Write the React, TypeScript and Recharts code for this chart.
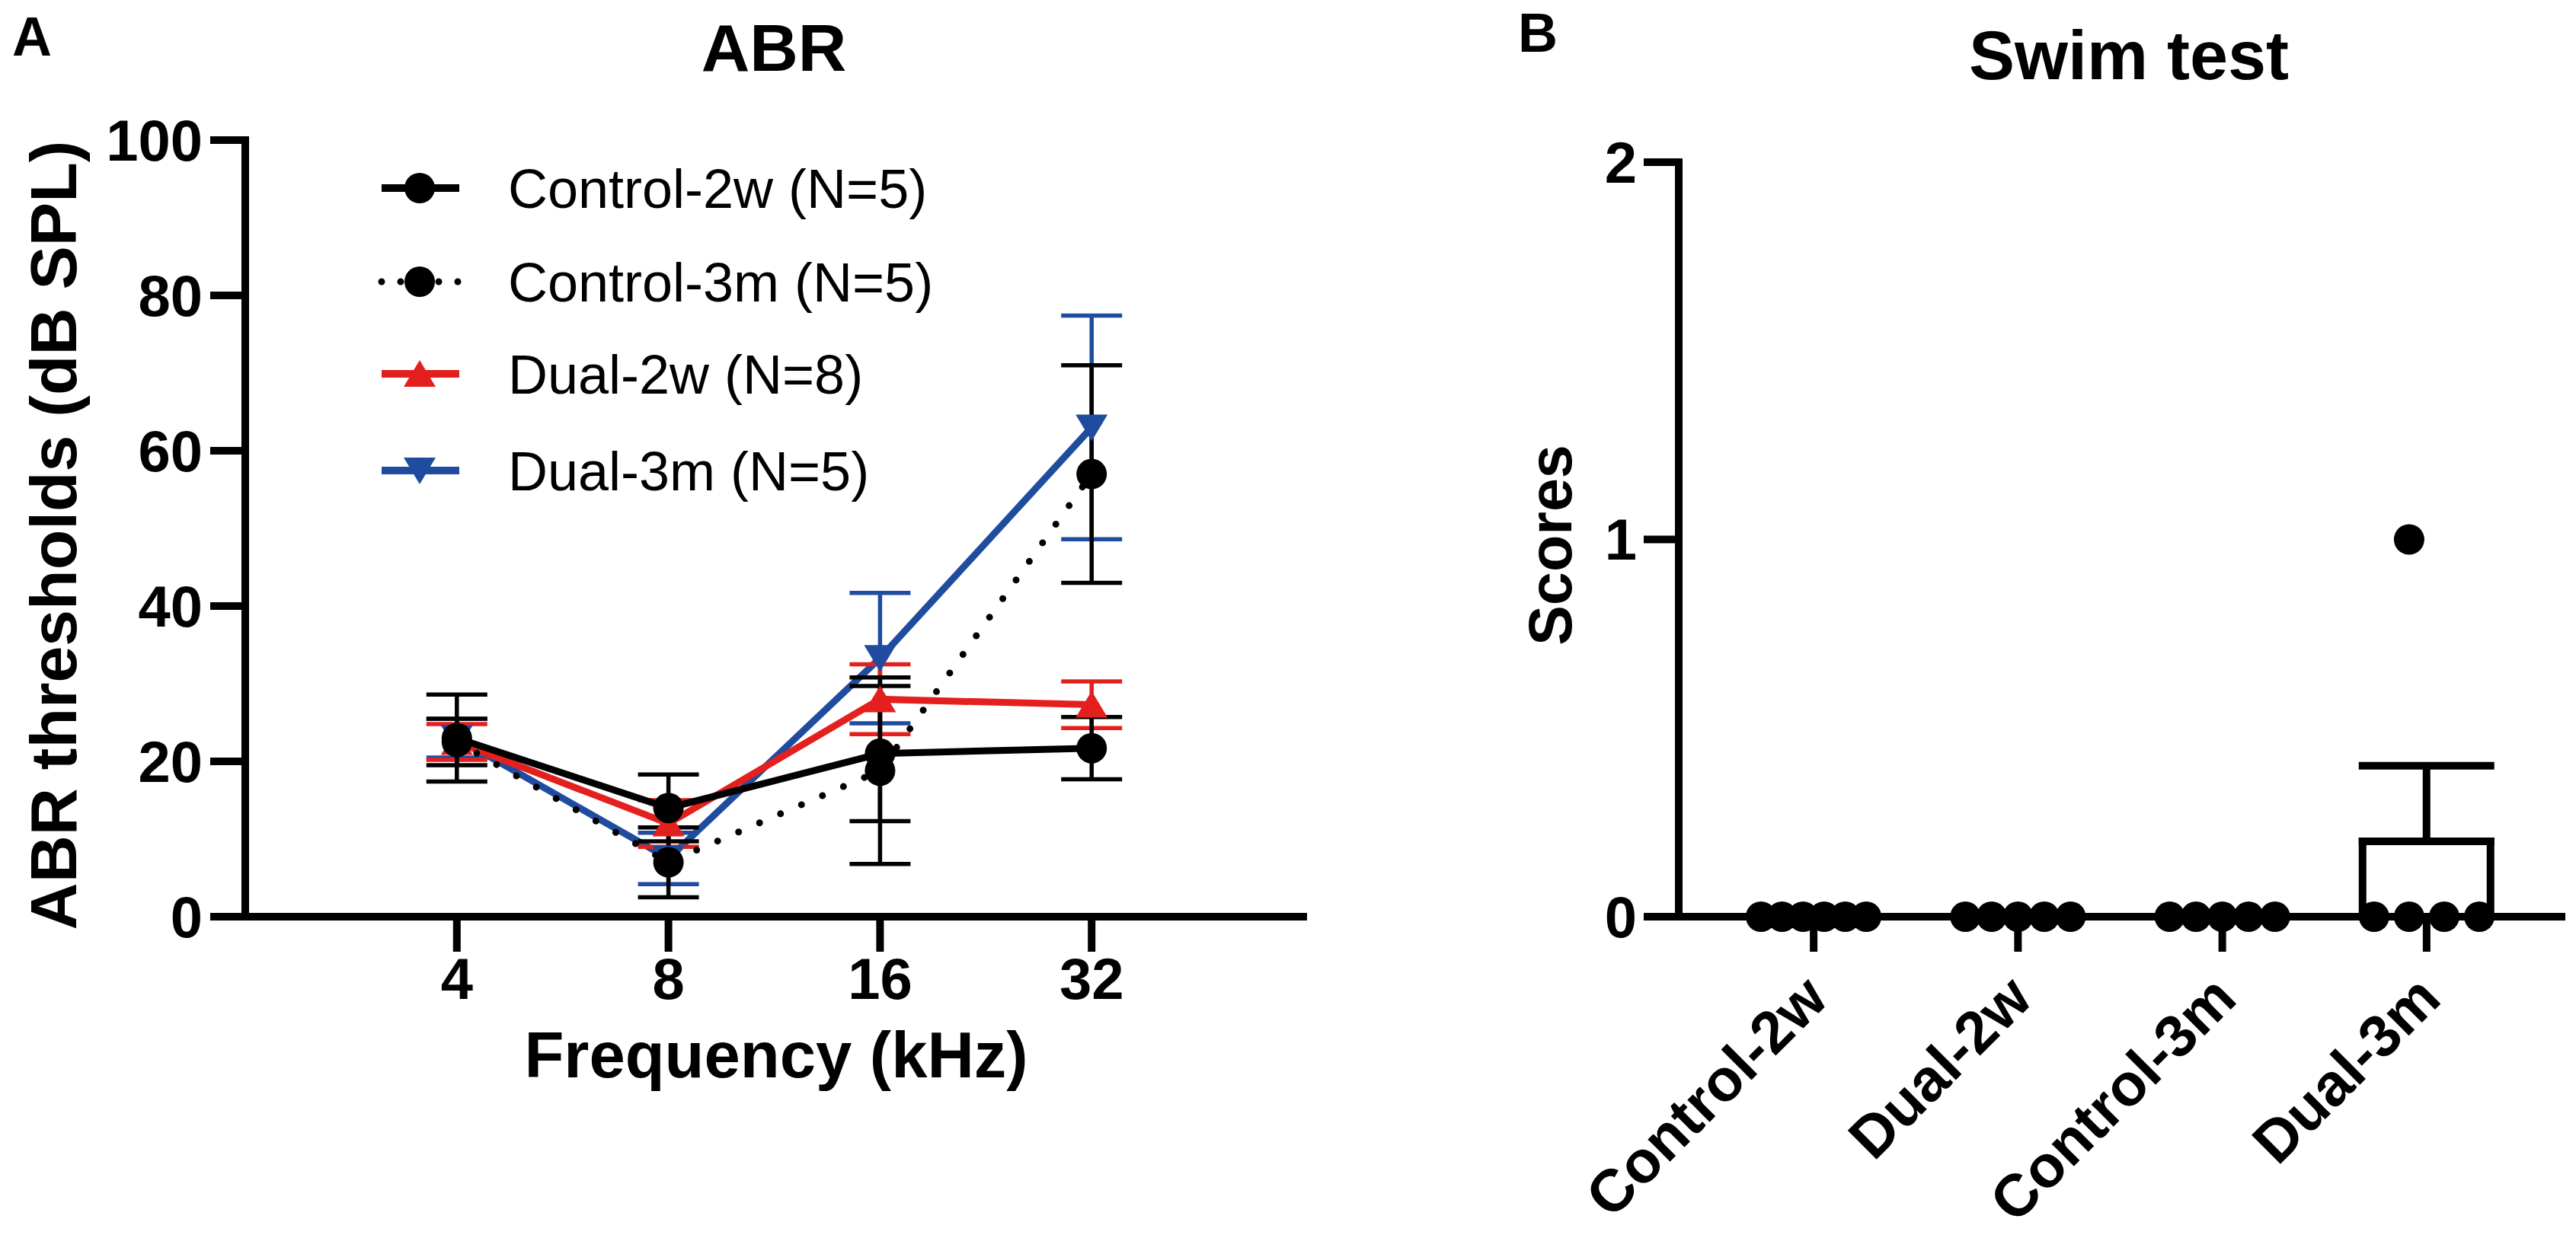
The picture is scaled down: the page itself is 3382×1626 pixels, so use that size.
import React from 'react';
import { LineChart, Line, XAxis, YAxis, ErrorBar, ComposedChart, Bar, Scatter } from 'recharts';

const FONT = '"Liberation Sans", Arial, Helvetica, sans-serif';
const RED = '#E3201E';
const BLUE = '#1F4C9E';

// ---- Panel A: ABR thresholds (mean +/- SEM) ----
const frequencies = [4, 8, 16, 32];
const control2wMean = [23, 14, 21, 21.7];
const control2wSem = [5.6, 4.3, 8.7, 4];
const control3mMean = [22.5, 7, 18.8, 57];
const control3mSem = [3, 4.5, 12, 14];
const dual2wMean = [22.5, 12, 28, 27.3];
const dual2wSem = [2.3, 3, 4.5, 3];
const dual3mMean = [23, 7.5, 33.3, 63];
const dual3mSem = [2.5, 3.3, 8.4, 14.4];
const abrTicks = [0, 20, 40, 60, 80, 100];

// ---- Panel B: swim test scores ----
const swimGroups = ['Control-2w', 'Dual-2w', 'Control-3m', 'Dual-3m'];
const control2wScores = [0, 0, 0, 0, 0, 0];
const dual2wScores = [0, 0, 0, 0, 0];
const control3mScores = [0, 0, 0, 0, 0];
const dual3mScores = [0, 1, 0, 0, 0];
const swimTicks = [0, 1, 2];

type Marker = 'circle' | 'up' | 'down';

const abrSeries = [
  { name: 'Control-2w (N=5)', mean: control2wMean, sem: control2wSem, color: '#000', dotted: false, marker: 'circle' as Marker },
  { name: 'Control-3m (N=5)', mean: control3mMean, sem: control3mSem, color: '#000', dotted: true, marker: 'circle' as Marker },
  { name: 'Dual-2w (N=8)', mean: dual2wMean, sem: dual2wSem, color: RED, dotted: false, marker: 'up' as Marker },
  { name: 'Dual-3m (N=5)', mean: dual3mMean, sem: dual3mSem, color: BLUE, dotted: false, marker: 'down' as Marker },
];

const toPoints = (mean: number[], sem: number[]) =>
  frequencies.map((freq, i) => ({ freq, value: mean[i], sem: sem[i] }));

const drawMarker = (marker: Marker, color: string, cx: number, cy: number, key?: any) => {
  if (marker === 'circle') return <circle key={key} cx={cx} cy={cy} r={20} fill={color} />;
  if (marker === 'up')
    return <path key={key} d={`M${cx},${cy - 18} L${cx + 21},${cy + 17} L${cx - 21},${cy + 17} Z`} fill={color} />;
  return <path key={key} d={`M${cx - 21},${cy - 17} L${cx + 21},${cy - 17} L${cx},${cy + 18} Z`} fill={color} />;
};

const mean = (v: number[]) => v.reduce((a, b) => a + b, 0) / v.length;
const sem = (v: number[]) => {
  const m = mean(v);
  const sd = Math.sqrt(v.reduce((a, b) => a + (b - m) ** 2, 0) / (v.length - 1));
  return sd / Math.sqrt(v.length);
};

const swimScores = [control2wScores, dual2wScores, control3mScores, dual3mScores];
const barData = swimGroups.map((name, i) => ({ name, mean: mean(swimScores[i]), err: [0, sem(swimScores[i])] }));

// spread equal values side by side like a column scatter;
// a lone value keeps roughly the slot of its place in the list
const SPREAD = 0.515;
const swimPoints = swimScores.flatMap((scores, g) => {
  const buckets: Record<string, number> = {};
  scores.forEach((s) => (buckets[s] = (buckets[s] || 0) + 1));
  const seen: Record<string, number> = {};
  return scores.map((s, idx) => {
    const k = buckets[s];
    const j = (seen[s] = (seen[s] || 0) + 1) - 1;
    const off =
      k > 1 ? -SPREAD / 2 + (j * SPREAD) / (k - 1) : ((idx - (scores.length - 1) / 2) * SPREAD) / (scores.length + 1);
    return { x: g + off, y: s };
  });
});

const axisStyle = { stroke: '#000', strokeWidth: 10, strokeLinecap: 'square' as const };
const tickStyle = { fill: '#000', fontSize: 76, fontWeight: 700, fontFamily: FONT };

const SwimTick = (props: any) => {
  const { x, y, payload } = props;
  return (
    <text
      transform={`translate(${x + 22},${y + 70}) rotate(-45)`}
      textAnchor="end"
      fill="#000"
      fontSize={78}
      fontWeight={700}
      fontFamily={FONT}
    >
      {payload.value}
    </text>
  );
};

const legendRows = [247, 370, 491, 618];

export default function App() {
  return (
    <div style={{ position: 'absolute', left: 0, top: 0, width: 3382, height: 1626, background: '#fff', overflow: 'hidden' }}>
      <div style={{ position: 'absolute', left: 0, top: 0 }}>
        <LineChart width={1760} height={1626} margin={{ top: 184, right: 49, bottom: 222, left: 122 }}>
          <XAxis
            dataKey="freq"
            type="number"
            scale="log"
            domain={[2, 64]}
            ticks={frequencies}
            allowDataOverflow
            height={200}
            tickSize={41}
            tickMargin={13}
            axisLine={axisStyle}
            tickLine={axisStyle}
            tick={tickStyle}
          />
          <YAxis
            type="number"
            domain={[0, 100]}
            ticks={abrTicks}
            width={200}
            tickSize={41}
            tickMargin={15}
            axisLine={axisStyle}
            tickLine={axisStyle}
            tick={tickStyle}
          />
          {[...abrSeries].reverse().map((s) => (
            <Line
              key={s.name}
              data={toPoints(s.mean, s.sem)}
              dataKey="value"
              type="linear"
              stroke={s.color}
              strokeWidth={9}
              strokeDasharray={s.dotted ? '0 30' : undefined}
              strokeLinecap="round"
              activeDot={false}
              legendType="none"
              isAnimationActive={false}
              dot={(p: any) => drawMarker(s.marker, s.color, p.cx, p.cy, p.index)}
            >
              <ErrorBar dataKey="sem" direction="y" width={40} stroke={s.color} strokeWidth={5.5} />
            </Line>
          ))}
        </LineChart>
      </div>

      <div style={{ position: 'absolute', left: 1760, top: 0 }}>
        <ComposedChart width={1622} height={1626} data={barData} margin={{ top: 213, right: 19, bottom: 222, left: 244 }}>
          <XAxis
            xAxisId="cat"
            dataKey="name"
            type="category"
            padding={{ left: 43, right: 43 }}
            interval={0}
            height={200}
            tickSize={41}
            tickMargin={0}
            axisLine={axisStyle}
            tickLine={axisStyle}
            tick={<SwimTick />}
          />
          <XAxis xAxisId="pts" dataKey="x" type="number" domain={[-0.66, 3.66]} allowDataOverflow hide />
          <YAxis
            type="number"
            domain={[0, 2]}
            ticks={swimTicks}
            width={200}
            tickSize={41}
            tickMargin={14}
            axisLine={axisStyle}
            tickLine={axisStyle}
            tick={tickStyle}
          />
          <Bar xAxisId="cat" dataKey="mean" barSize={168} fill="#fff" stroke="#000" strokeWidth={10} isAnimationActive={false}>
            <ErrorBar dataKey="err" direction="y" width={89} stroke="#000" strokeWidth={10} />
          </Bar>
          <Scatter
            xAxisId="pts"
            data={swimPoints}
            dataKey="y"
            isAnimationActive={false}
            shape={(p: any) => <circle cx={p.cx} cy={p.cy} r={20} fill="#000" />}
          />
        </ComposedChart>
      </div>

      <svg width={3382} height={1626} style={{ position: 'absolute', left: 0, top: 0, pointerEvents: 'none' }} fontFamily={FONT}>
        <text x={16} y={73} fontSize={72} fontWeight={700}>A</text>
        <text x={1016} y={93} fontSize={88} fontWeight={700} textAnchor="middle">ABR</text>
        <text transform="translate(100,703) rotate(-90)" fontSize={86} fontWeight={700} textAnchor="middle">
          ABR thresholds (dB SPL)
        </text>
        <text x={1019} y={1415} fontSize={85} fontWeight={700} textAnchor="middle">Frequency (kHz)</text>
        {abrSeries.map((s, i) => {
          const cy = legendRows[i];
          return (
            <g key={s.name}>
              <line
                x1={501}
                x2={603}
                y1={cy}
                y2={cy}
                stroke={s.color}
                strokeWidth={s.dotted ? 9 : 10}
                strokeDasharray={s.dotted ? '0 25' : undefined}
                strokeLinecap={s.dotted ? 'round' : 'butt'}
              />
              {drawMarker(s.marker, s.color, 551, cy)}
              <text x={667} y={cy + 26} fontSize={72}>{s.name}</text>
            </g>
          );
        })}
        <text x={1993} y={68} fontSize={72} fontWeight={700}>B</text>
        <text x={2795} y={104} fontSize={90} fontWeight={700} textAnchor="middle">Swim test</text>
        <text transform="translate(2063,716) rotate(-90)" fontSize={79} fontWeight={700} textAnchor="middle">
          Scores
        </text>
      </svg>
    </div>
  );
}
